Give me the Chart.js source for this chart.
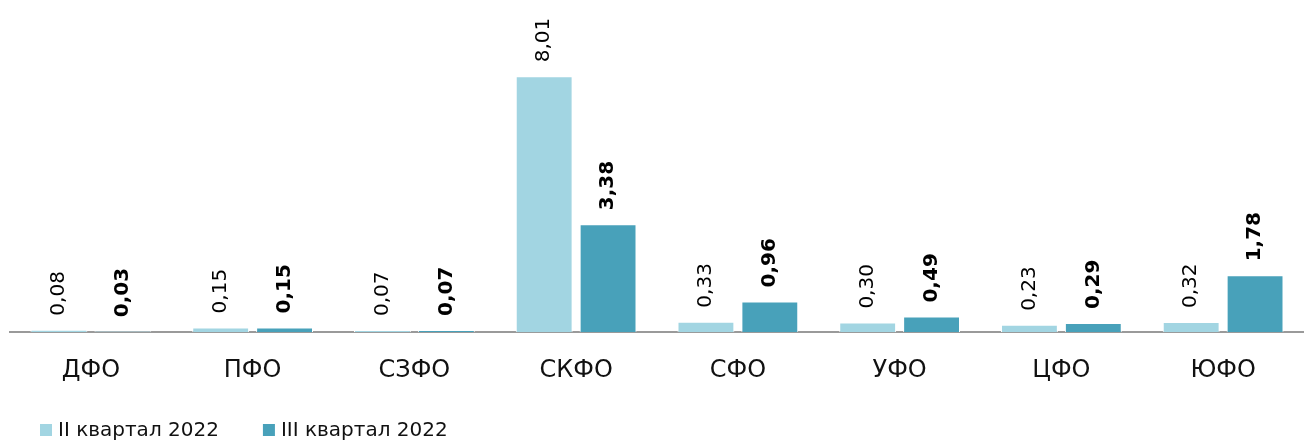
<!DOCTYPE html>
<html>
<head>
<meta charset="utf-8">
<script src="https://cdn.jsdelivr.net/npm/chart.js@4/dist/chart.umd.min.js"></script>
<style>
  html, body { margin: 0; padding: 0; background: #fff; }
  #wrap { width: 1304px; height: 443px; position: relative; }
</style>
</head>
<body>
<div id="wrap"><canvas id="c"></canvas></div>
<script>
// Federal districts
const districts = ['ДФО', 'ПФО', 'СЗФО', 'СКФО', 'СФО', 'УФО', 'ЦФО', 'ЮФО'];
// Values per quarter
const q2_2022 = [0.08, 0.15, 0.07, 8.01, 0.33, 0.30, 0.23, 0.32];
const q3_2022 = [0.03, 0.15, 0.07, 3.38, 0.96, 0.49, 0.29, 1.78];
const seriesNames = ['II квартал 2022', 'III квартал 2022'];

const FONT = "'DejaVu Sans', sans-serif";

// Vertical value labels drawn above each bar
const barValueLabels = {
  id: 'barValueLabels',
  afterDatasetsDraw(chart) {
    const ctx = chart.ctx;
    chart.data.datasets.forEach((ds, di) => {
      const meta = chart.getDatasetMeta(di);
      meta.data.forEach((bar, i) => {
        const txt = ds.data[i].toFixed(2).replace('.', ',');
        ctx.save();
        ctx.translate(bar.x, bar.y - 14);
        ctx.rotate(-Math.PI / 2);
        ctx.font = (di === 1 ? 'bold ' : '') + '20px ' + FONT;
        ctx.fillStyle = '#000';
        ctx.textAlign = 'left';
        ctx.textBaseline = 'middle';
        ctx.fillText(txt, 0, 0);
        ctx.restore();
      });
    });
  }
};

// Legend in the bottom-left corner
const bottomLegend = {
  id: 'bottomLegend',
  afterDraw(chart) {
    const ctx = chart.ctx;
    const y = 430;
    let x = 40;
    ctx.save();
    ctx.font = '20px ' + FONT;
    ctx.textBaseline = 'middle';
    ctx.textAlign = 'left';
    chart.data.datasets.forEach(ds => {
      ctx.fillStyle = ds.backgroundColor;
      ctx.fillRect(x, y - 6, 12, 12);
      ctx.fillStyle = '#111';
      ctx.fillText(ds.label, x + 18, y + 1);
      x += 18 + ctx.measureText(ds.label).width + 44;
    });
    ctx.restore();
  }
};

new Chart(document.getElementById('c'), {
  type: 'bar',
  data: {
    labels: districts,
    datasets: [
      { label: seriesNames[0], data: q2_2022, backgroundColor: '#A2D5E2', borderColor: '#ffffff', borderWidth: 1,
        categoryPercentage: 0.79, barPercentage: 0.89 },
      { label: seriesNames[1], data: q3_2022, backgroundColor: '#48A1BA', borderColor: '#ffffff', borderWidth: 1,
        categoryPercentage: 0.79, barPercentage: 0.89 }
    ]
  },
  options: {
    responsive: true,
    maintainAspectRatio: false,
    animation: false,
    layout: { padding: { left: 10, right: 0, top: 0, bottom: 34 } },
    scales: {
      x: {
        grid: { display: false, drawTicks: false },
        border: { color: '#9a9a9a', width: 2 },
        ticks: { color: '#111', font: { family: FONT, size: 24 }, padding: 24 }
      },
      y: {
        display: false,
        min: 0,
        max: 10.4
      }
    },
    plugins: {
      legend: { display: false },
      tooltip: { enabled: false }
    }
  },
  plugins: [barValueLabels, bottomLegend]
});
</script>
</body>
</html>
